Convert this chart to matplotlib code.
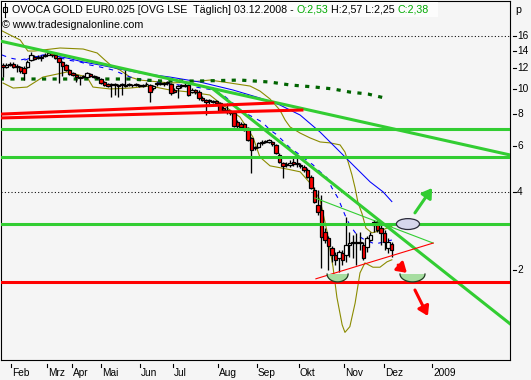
import matplotlib
matplotlib.use("Agg")
import matplotlib.pyplot as plt
import numpy as np
from matplotlib.patches import Rectangle, Ellipse, Polygon
from matplotlib.lines import Line2D
from matplotlib.transforms import blended_transform_factory
from matplotlib.ticker import NullLocator

# ---------------- data ----------------
opens = [12.33,12.12,12.33,12.44,12.12,12.12,12.01,12.12,12.89,13.24,
         13.12,13.24,13.36,13.48,13.72,13.48,13.12,12.67,12.33,11.80,
         11.49,11.29,11.08,11.08,11.08,11.39,11.18,11.08,10.89,10.60,
         10.42,10.33,10.42,10.33,10.33,10.23,10.33,10.33,10.42,10.23,
         10.33,10.42,10.33,10.05,10.42,10.42,10.51,10.51,10.42,9.88,
         10.05,10.23,10.33,10.33,9.70,9.88,9.70,9.20,9.04,8.96,
         8.96,8.96,8.80,8.42,8.27,8.13,8.05,7.44,7.31,7.31,
         7.05,6.46,5.91,5.96,6.18,6.23,6.23,6.23,6.07,5.55,
         5.17,5.08,5.08,5.22,5.13,5.08,4.99,4.86,4.57,4.07,
         3.56,3.41,2.81,2.66,2.43,2.28,2.22,2.33,2.28,2.50,
         2.54,2.54,2.57,2.50,2.45,2.61,2.98,3.06,2.90,2.78,
         2.43,2.53]
highs = [12.55,12.55,12.67,12.67,12.44,12.22,12.22,12.89,13.84,13.48,
         13.48,13.48,13.72,13.96,13.84,13.60,13.24,12.78,12.44,11.90,
         11.59,11.39,11.18,11.29,11.59,11.49,11.29,11.18,10.99,10.70,
         10.51,10.51,10.51,10.42,10.51,11.80,10.51,10.42,10.51,10.42,
         10.42,10.60,10.42,10.33,10.60,10.60,10.60,10.70,10.51,10.05,
         10.33,10.42,10.51,10.42,10.05,9.97,9.88,9.37,9.12,9.12,
         9.04,9.04,8.88,8.57,8.80,8.27,8.13,7.57,7.44,7.37,
         7.12,6.51,6.01,6.23,6.34,6.34,6.40,6.29,6.12,5.65,
         5.22,5.22,5.31,5.41,5.55,5.17,5.08,4.95,4.65,4.18,
         4.07,3.89,2.90,2.71,2.47,2.35,2.39,2.39,3.20,2.81,
         2.73,2.78,2.81,2.57,2.71,2.81,3.12,3.12,3.01,2.85,
         2.66,2.57]
lows = [11.08,12.01,12.22,12.01,11.59,11.49,10.79,12.01,12.78,12.89,
        13.01,12.78,13.24,13.48,13.24,13.01,10.51,11.18,11.69,11.29,
        11.18,10.60,10.33,10.99,10.99,11.08,10.99,10.89,10.42,10.23,
        10.14,9.28,9.45,9.28,9.45,10.14,10.23,10.14,10.23,10.14,
        10.14,10.23,8.88,9.88,10.23,10.33,10.23,10.33,9.45,9.62,
        9.20,10.05,10.14,9.37,9.62,9.53,9.04,8.96,7.91,8.73,
        8.80,8.65,8.13,8.13,7.98,7.91,7.12,7.05,7.05,6.87,
        6.29,4.73,5.80,5.91,6.07,6.18,6.18,6.01,5.60,5.17,
        4.53,4.99,4.99,5.04,4.99,4.95,4.78,4.53,4.10,3.62,
        3.26,2.04,2.54,2.00,2.15,2.09,1.97,2.09,2.15,2.24,
        2.22,2.09,2.39,2.19,2.35,2.59,2.81,2.81,2.50,2.39,
        2.33,2.25]
closes = [12.12,12.33,12.44,12.12,12.22,11.69,11.49,12.67,13.48,13.01,
          13.24,13.12,13.48,13.72,13.48,13.12,12.67,12.22,11.80,11.39,
          11.29,11.08,10.99,11.18,11.49,11.18,11.08,10.99,10.51,10.33,
          10.23,10.42,10.33,10.23,10.42,10.33,10.42,10.33,10.33,10.33,
          10.23,10.42,9.70,10.23,10.51,10.51,10.42,10.60,9.62,9.70,
          10.23,10.33,10.23,9.45,9.88,9.70,9.20,9.04,8.88,9.04,
          8.88,8.80,8.20,8.27,8.13,8.05,7.18,7.18,7.12,6.93,
          6.34,5.80,5.96,6.18,6.23,6.29,6.34,6.12,5.65,5.22,
          5.04,5.13,5.17,5.13,5.17,5.04,4.86,4.57,4.14,3.65,
          3.35,2.68,2.61,2.47,2.28,2.19,2.35,2.19,2.50,2.54,
          2.57,2.57,2.54,2.22,2.66,2.73,3.06,2.85,2.78,2.57,
          2.57,2.38]

month_labels = ['Feb', 'Mrz', 'Apr', 'Mai', 'Jun', 'Jul', 'Aug', 'Sep',
                'Okt', 'Nov', 'Dez', '2009']
month_pos = [2.3, 12.6, 19.7, 28.0, 39.1, 48.6, 61.4, 72.6, 84.6, 97.4, 108.9, 122.6]
y_ticks = [2, 4, 6, 8, 10, 12, 14, 16]
grid_levels = [16, 4]

# moving averages / bands (bar index, value)
ma_long_x = [6.3, 8.6, 13.4, 18.3, 22.9, 27.7, 33.4, 39.1, 47.7, 56.3, 65.7, 73.4,
             79.1, 84.9, 90.6, 96.3, 100.0, 104.9, 108.6, 111.1]
ma_long_y = [12.89, 13.24, 13.48, 13.12, 12.67, 12.33, 11.90, 11.49, 11.08, 10.60, 9.88, 9.20,
             8.65, 7.91, 6.80, 5.70, 5.08, 4.37, 4.00, 3.67]
ma_short_x = [-0.3, 2.0, 4.9, 7.7, 11.4, 14.3, 18.3, 22.0, 24.9, 27.7, 31.4, 36.3, 42.0,
              47.7, 53.4, 60.0, 62.9, 65.7, 68.6, 71.4, 74.0, 76.3, 78.3, 82.0, 84.9,
              88.6, 90.6, 92.6, 94.0, 95.7, 97.7, 99.1, 101.1, 103.4, 106.3, 109.1, 111.1]
ma_short_y = [13.48, 13.12, 12.89, 13.12, 13.48, 13.48, 12.89, 12.67, 12.33, 12.12, 11.80,
              11.08, 10.70, 10.42, 10.23, 9.88, 9.45, 8.80, 8.13, 7.77, 7.44, 6.93, 6.63,
              5.91, 5.55, 5.08, 4.78, 4.53, 4.14, 3.79, 3.26, 2.98, 2.73, 2.61, 2.52, 2.57, 2.61]
band_up_x = [-0.3, 2.0, 4.9, 7.1, 9.1, 11.4, 16.3, 22.9, 26.9, 29.1, 31.4, 33.4, 36.3,
             39.1, 47.7, 53.4, 59.1, 64.9, 70.6, 73.4, 76.3, 79.1, 80.6, 82.0, 84.9,
             87.7, 90.6, 93.4, 96.3, 97.7, 98.6, 99.7, 100.6, 101.4, 102.6, 103.7,
             105.4, 108.3, 111.1]
band_up_y = [16.7, 16.1, 15.4, 13.96, 13.96, 14.09, 14.34, 14.21, 13.72, 12.89, 12.12,
             11.80, 11.08, 10.79, 10.51, 10.60, 10.79, 10.51, 10.23, 9.79, 9.12, 8.27,
             7.57, 7.12, 6.74, 6.46, 6.23, 6.18, 6.07, 5.70, 5.22, 4.65, 4.14, 3.65,
             3.29, 2.90, 2.78, 2.85, 2.95]
band_lo_x = [0.0, 2.9, 6.9, 11.4, 18.3, 24.0, 25.7, 30.6, 36.3, 42.0, 47.7, 53.4, 59.1,
             62.0, 64.9, 67.7, 71.4, 73.4, 76.3, 81.1, 84.9, 87.7, 90.6, 92.6, 94.3,
             95.4, 96.9, 97.7, 99.1, 100.6, 102.0, 103.4, 105.7, 107.7, 109.7, 111.1]
band_lo_y = [10.51, 10.05, 10.14, 11.08, 11.59, 11.08, 10.14, 9.97, 10.05, 10.23, 9.88,
             9.70, 9.45, 8.80, 8.27, 7.77, 6.51, 5.45, 5.04, 4.90, 4.78, 4.33, 3.72,
             2.81, 2.05, 1.57, 1.23, 1.15, 1.21, 1.49, 1.95, 2.13, 2.05, 2.05, 2.15, 2.19]
ma_dot_x = [-0.9, 13.4, 27.7, 36.3, 44.9, 56.3, 67.7, 76.3, 82.0, 89.1, 94.3, 99.1, 104.3, 109.1]
ma_dot_y = [10.89, 10.89, 10.89, 10.89, 10.70, 10.70, 10.79, 10.60, 10.33, 10.14, 9.97,
            9.70, 9.53, 9.20]

# drawn trend lines (bar index, value)
trend_shallow_x = [-0.6, 144.9]
trend_shallow_y = [15.23, 5.55]
trend_steep_x = [60.0, 144.9]
trend_steep_y = [9.97, 1.24]
green_levels = [7.0, 5.43, 3.01]
red_levels = [1.80]
red_up_x = [-0.3, 77.1]
red_up_y = [7.98, 8.80]
red_lo_x = [-0.3, 85.4]
red_lo_y = [7.71, 8.27]
tri_green_x = [89.1, 122.9]
tri_green_y = [3.79, 2.54]
tri_red_x = [89.4, 122.9]
tri_red_y = [1.85, 2.54]

# annotations
ell_center = (115.7, 3.01)
ell_size = (6.6, 0.29)
bowl_x = [95.6, 117.0]
bowl_halfw = [3.0, 3.57]
bowl_top, bowl_bottom = 1.93, 1.80
arrow_green = ((117.7, 3.32), (122.6, 4.14))
arrows_red = [((112.9, 2.09), (115.4, 1.95)), ((117.7, 1.675), (121.4, 1.33))]

# ---------------- figure ----------------
W, H, DPI = 531, 380, 100
FONT = 'Liberation Sans'
BG = '#F5F5F5'
GREEN = '#32CD32'
RED = '#FF0000'
BLUE = '#0000FF'
OLIVE = '#8B8B00'
DKGREEN = '#006400'

fig = plt.figure(figsize=(W / DPI, H / DPI), dpi=DPI, facecolor=BG)
ax = fig.add_axes([1 / W, 20 / H, 509 / W, 359 / H])
ax.set_facecolor(BG)
ax.set_yscale('log')
ax.set_ylim(0.900, 21.76)
ax.set_xlim(-0.571, 144.857)
for a in (ax.xaxis, ax.yaxis):
    a.set_major_locator(NullLocator())
    a.set_minor_locator(NullLocator())
for sp in ax.spines.values():
    sp.set_linewidth(0.8)
    sp.set_color('black')

# dotted grid
for g in grid_levels:
    ax.axhline(g, color='black', lw=0.75, ls=(0, (1, 2.2)), zorder=1)

# indicators
ax.plot(band_up_x, band_up_y, color=OLIVE, lw=0.8, zorder=2)
ax.plot(band_lo_x, band_lo_y, color=OLIVE, lw=0.8, zorder=2)
ax.plot(ma_long_x, ma_long_y, color=BLUE, lw=0.75, zorder=2)
ax.plot(ma_short_x, ma_short_y, color=BLUE, lw=0.8, ls=(0, (4, 5)), zorder=2)
ax.plot(ma_dot_x, ma_dot_y, color=DKGREEN, lw=2.3, ls=(0, (1.3, 2.0)), zorder=2)

# candles
o = np.array(opens); h = np.array(highs); l = np.array(lows); c = np.array(closes)
xi = np.arange(len(c))
ax.vlines(xi, l, h, color='black', lw=0.95, zorder=3)
bot = np.minimum(o, c); top = np.maximum(o, c)
cols = np.where(c < o, RED, '#FFFFFF')
ax.bar(xi, top - bot, bottom=bot, width=0.9, color=cols, edgecolor='black',
       linewidth=0.9, zorder=3.5)

# trend lines
ax.plot(trend_shallow_x, trend_shallow_y, color=GREEN, lw=2.2, zorder=4)
ax.plot(trend_steep_x, trend_steep_y, color=GREEN, lw=2.2, zorder=4)
for v in green_levels:
    ax.axhline(v, color=GREEN, lw=2.2, zorder=4)
for v in red_levels:
    ax.axhline(v, color=RED, lw=2.2, zorder=4)
ax.plot(red_up_x, red_up_y, color=RED, lw=2.2, zorder=4)
ax.plot(red_lo_x, red_lo_y, color=RED, lw=2.2, zorder=4)
ax.plot(tri_green_x, tri_green_y, color=GREEN, lw=0.8, zorder=4)
ax.plot(tri_red_x, tri_red_y, color=RED, lw=0.8, zorder=4)

# annotations
ax.add_patch(Ellipse(ell_center, ell_size[0], ell_size[1], fc='#D6D6EC',
                     ec='#2A2A3A', lw=0.9, zorder=6))
tt = np.linspace(np.pi, 2 * np.pi, 40)
for cx, hw in zip(bowl_x, bowl_halfw):
    bx = cx + hw * np.cos(tt)
    by = bowl_top * (bowl_bottom / bowl_top) ** (-np.sin(tt))
    ax.add_patch(Polygon(np.column_stack([bx, by]), closed=True, fc='#A6DDA0',
                         ec='none', zorder=5))
    ax.plot(bx, by, color='#1E3A1E', lw=0.9, zorder=5.5)
ax.annotate('', xy=arrow_green[1], xytext=arrow_green[0],
            arrowprops=dict(arrowstyle='-|>,head_length=0.55,head_width=0.35',
                            color=GREEN, lw=2.2, shrinkA=0, shrinkB=0,
                            mutation_scale=10), zorder=6)
for tail, head in arrows_red:
    ax.annotate('', xy=head, xytext=tail,
                arrowprops=dict(arrowstyle='-|>,head_length=0.55,head_width=0.35',
                                color=RED, lw=2.2, shrinkA=0, shrinkB=0,
                                mutation_scale=10), zorder=6)

# ---------------- axis labels ----------------
FS = 7.3
tx = blended_transform_factory(ax.transData, ax.transAxes)
for p, lab in zip(month_pos, month_labels):
    ax.plot([p, p], [-4 / 359, -7 / 359], transform=tx, clip_on=False,
            color='black', lw=0.8)
    ax.text(p + 0.25, -7.5 / 359, lab, transform=tx, ha='left', va='top',
            fontsize=FS, family=FONT)
ty = blended_transform_factory(ax.transAxes, ax.transData)
for v in y_ticks:
    ax.plot([1 + 2.5 / 509, 1 + 5.5 / 509], [v, v], transform=ty, clip_on=False,
            color='black', lw=0.8)
    ax.text(1 + 7 / 509, v, str(v), transform=ty, ha='left', va='center',
            fontsize=FS, family=FONT)

# ---------------- title block ----------------
fig.patches.append(Rectangle((1.5 / W, 1 - 17 / H), 436 / W, 15.5 / H,
                             transform=fig.transFigure, fc='#FCFCFC', ec='none',
                             zorder=0.5))
fig.canvas.draw()
r = fig.canvas.get_renderer()


def width_of(s, fs):
    t = fig.text(0, 0, s, fontsize=fs, family=FONT)
    w = t.get_window_extent(renderer=r).width
    t.remove()
    return w


full = "OVOCA GOLD EUR0.025 [OVG LSE  Täglich] 03.12.2008 - O:2,53 H:2,57 L:2,25 C:2,38"
tfs = 10 * 416 / width_of(full, 10)
space = width_of("a a", tfs) - width_of("aa", tfs)
pieces = [("OVOCA GOLD EUR0.025 [OVG LSE  Täglich] 03.12.2008 -", 'black'),
          ("O:2,53", '#00AA00'), ("H:2,57 L:2,25", 'black'), ("C:2,38", '#00AA00')]
xp = 12
for s, col in pieces:
    t = fig.text(xp / W, 1 - 13 / H, s, fontsize=tfs, family=FONT, color=col,
                 va='baseline', ha='left')
    xp += t.get_window_extent(renderer=r).width + space

# candlestick icon
fig.add_artist(Line2D([4.5 / W, 4.5 / W], [1 - 2.5 / H, 1 - 16.5 / H],
                      transform=fig.transFigure, color='black', lw=0.8))
fig.add_artist(Rectangle((2.5 / W, 1 - 12 / H), 4 / W, 5.5 / H,
                         transform=fig.transFigure, fc='white', ec='black', lw=0.8))

fig.text(2 / W, 1 - 28 / H, "© www.tradesignalonline.com", fontsize=tfs,
         family=FONT, va='baseline', ha='left')
fig.text(515 / W, 1 - 13 / H, "p", fontsize=tfs, family=FONT, va='baseline',
         ha='left')

fig.savefig('out.png', dpi=DPI, facecolor=BG)
